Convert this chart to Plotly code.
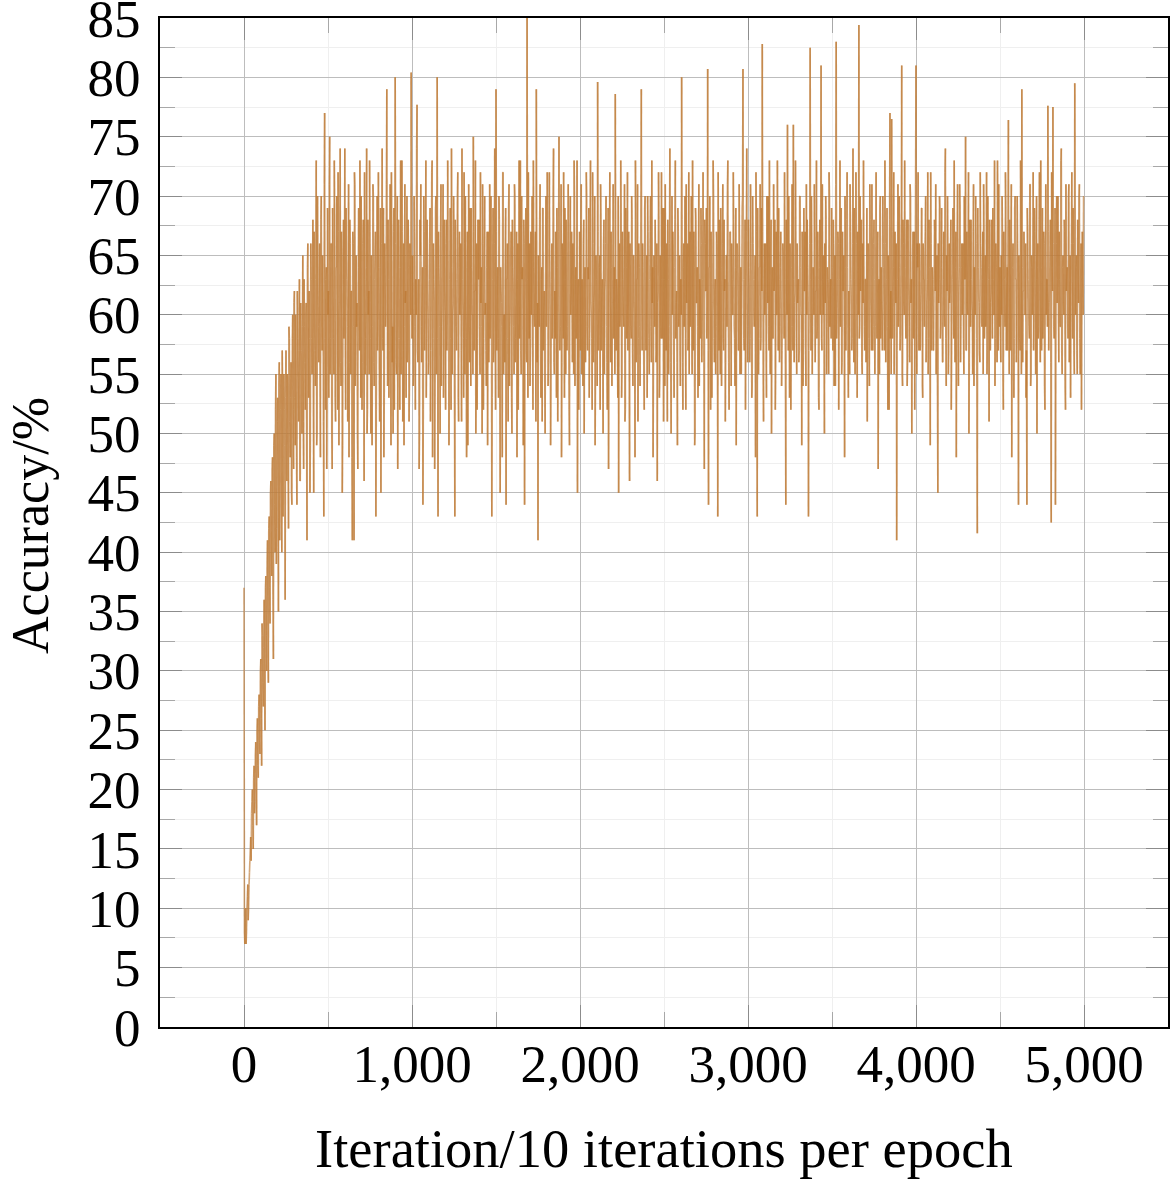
import plotly.graph_objects as go

# Accuracy (%), samples at iterations 0, 5, 10, ...
acc = [
    37, 7, 10, 8, 11, 9, 12, 14, 16, 18,
    20, 15, 22, 19, 24, 17, 26, 21, 28, 23,
    31, 22, 33, 27, 36, 25, 38, 30, 41, 29,
    43, 34, 46, 38, 48, 31, 50, 40, 55, 42,
    53, 35, 56, 45, 55, 40, 54, 47, 52, 36,
    57, 46, 54, 42, 58, 48, 56, 44, 60, 47,
    62, 49, 55, 44, 58, 51, 63, 46, 57, 50,
    65, 47, 59, 52, 61, 41, 66, 53, 58, 49,
    63, 55, 68, 45, 60, 54, 73, 50, 62, 56,
    66, 48, 70, 57, 61, 43, 77, 52, 64, 55,
    60, 53, 75, 58, 66, 47, 62, 55, 69, 51,
    64, 57, 72, 49, 61, 56, 67, 45, 63, 58,
    74, 52, 65, 59, 60, 48, 68, 55, 62, 41,
    66, 41, 71, 57, 59, 50, 64, 60, 73, 53,
    61, 56, 68, 46, 63, 58, 74, 52, 60, 55,
    67, 50, 62, 59, 70, 54, 65, 43, 61, 57,
    72, 55, 64, 45, 66, 58, 69, 53, 62, 60,
    79, 54, 63, 57, 71, 49, 65, 59, 67, 52,
    80, 56, 62, 47, 68, 58, 64, 55, 73, 51,
    66, 59, 61, 53, 70, 57, 64, 54, 63, 80.4,
    58, 62, 55, 67, 52, 60, 77.7, 56, 63, 50,
    65, 59, 61, 44, 70, 57, 64, 53, 68, 60,
    56, 66, 51, 62, 73, 58, 63, 47, 69, 55,
    80, 43, 64, 59, 67, 54, 61, 71, 57, 62,
    52, 68, 60, 65, 49, 63, 58, 74, 55, 61,
    67, 43, 62, 57, 70, 53, 64, 60, 66, 51,
    63, 58, 72, 55, 61, 48, 67, 62, 59, 69,
    54, 64, 60, 75, 57, 62, 50, 66, 58, 63,
    68, 55, 61, 59, 71, 52, 65, 60, 57, 64,
    49, 67, 62, 58, 70, 43, 63, 56, 66, 61,
    79, 57, 64, 53, 68, 45, 62, 59, 72, 55,
    60, 65, 44, 63, 58, 69, 54, 61, 67, 50,
    64, 59, 71, 56, 62, 48, 66, 60, 58, 73,
    55, 63, 61, 68, 44, 65, 57, 85, 53, 62,
    66, 58, 60, 70, 52, 64, 59, 67, 79, 56,
    41, 62, 68, 57, 63, 51, 69, 60, 55, 65,
    59, 72, 54, 61, 66, 49, 63, 58, 70, 56,
    62, 67, 53, 64, 60, 75, 57, 61, 48, 66,
    58, 63, 69, 55, 62, 59, 71, 52, 65, 60,
    67, 56, 61, 73, 54, 64, 59, 45, 63, 58,
    62, 68, 55, 60, 66, 50, 64, 59, 70, 57,
    63, 53, 67, 61, 58, 72, 56, 62, 49, 65,
    60, 79.6, 57, 64, 52, 68, 61, 59, 66, 55,
    63, 70, 56, 62, 47, 65, 60, 67, 54, 61,
    58, 64, 78.6, 57, 62, 53, 45, 66, 60, 69,
    55, 63, 59, 71, 52, 64, 61, 57, 67, 46,
    62, 58, 68, 54, 65, 60, 73, 56, 63, 51,
    66, 59, 61, 79, 57, 64, 55, 69, 60, 62,
    53, 67, 58, 63, 70, 56, 61, 48, 65, 59,
    64, 57, 46, 62, 68, 55, 60, 72, 58, 63,
    69, 54, 61, 66, 51, 63, 59, 74, 56, 62,
    60, 65, 53, 68, 58, 62, 49, 67, 61, 57,
    63, 80, 56, 64, 59, 70, 52, 61, 66, 58,
    55, 67, 62, 60, 73, 57, 64, 50, 68, 61,
    59, 65, 54, 62, 69, 56, 63, 60, 47, 66,
    62, 58, 80.7, 44, 64, 57, 67, 53, 61, 70,
    56, 63, 59, 66, 43, 62, 68, 55, 64, 60,
    71, 57, 62, 51, 65, 59, 73, 56, 61, 67,
    54, 63, 60, 68, 58, 64, 49, 66, 62, 57,
    65, 60, 55, 69, 80.7, 58, 63, 52, 67, 61,
    59, 64, 56, 71, 62, 54, 66, 60, 63, 48,
    67, 43, 61, 58, 64, 57, 69, 82.8, 55, 62,
    60, 66, 53, 63, 70, 57, 61, 65, 50, 64,
    58, 62, 68, 55, 60, 73, 57, 63, 59, 67,
    54, 61, 65, 58, 63, 44, 62, 76, 57, 60,
    66, 52, 64, 59, 76, 56, 62, 68, 55, 61,
    63, 57, 70, 60, 49, 65, 58, 62, 67, 54,
    60, 64, 43, 61, 82.5, 57, 66, 59, 63, 71,
    56, 62, 58, 67, 53, 64, 60, 81, 57, 63,
    65, 50, 61, 68, 59, 63, 55, 70, 62, 58,
    64, 57, 66, 60, 54, 83, 61, 67, 52, 63,
    59, 69, 56, 62, 65, 48, 64, 60, 72, 57,
    62, 55, 67, 61, 58, 74, 56, 63, 60, 66,
    53, 64, 84.4, 59, 62, 68, 55, 61, 65, 57,
    63, 60, 51, 66, 58, 71, 62, 57, 64, 59,
    68, 55, 62, 60, 65, 47, 63, 69, 58, 61,
    57, 66, 60, 73, 56, 63, 59, 65, 52, 77,
    62, 76.5, 58, 64, 55, 67, 61, 41, 63, 59,
    70, 57, 62, 81, 54, 66, 60, 64, 58, 68,
    56, 63, 59, 71, 61, 50, 65, 58, 67, 62,
    81, 55, 64, 60, 66, 57, 62, 69, 53, 63,
    59, 67, 56, 61, 72, 58, 64, 49, 66, 60,
    63, 57, 68, 62, 55, 65, 45, 61, 70, 58,
    64, 60, 56, 67, 59, 74, 54, 62, 66, 57,
    61, 65, 52, 63, 69, 58, 60, 64, 48, 67,
    59, 62, 71, 56, 64, 60, 66, 55, 63, 75,
    57, 61, 65, 50, 68, 59, 63, 60, 67, 54,
    62, 70, 58, 41.6, 64, 61, 56, 66, 60, 63,
    55, 67, 62, 59, 72, 57, 64, 51, 65, 61,
    68, 58, 63, 60, 54, 66, 62, 73, 57, 61,
    64, 56, 60, 67, 52, 63, 59, 69, 61, 57,
    76.4, 55, 62, 65, 48, 64, 60, 58, 70, 63,
    59, 66, 44, 61, 57, 68, 79, 56, 62, 65,
    60, 53, 44, 67, 61, 58, 71, 55, 64, 62,
    57, 69, 60, 63, 50, 66, 59, 72, 56, 64,
    61, 58, 67, 54, 65, 60, 63, 77.6, 57, 62,
    68, 42.5, 64, 77.5, 59, 62, 44, 66, 61, 70,
    56, 63, 59, 74, 55, 65, 60, 67, 52, 62,
    64, 58, 71, 60, 53, 66, 61, 69, 57, 79.5,
    60, 65, 55, 63, 70, 58, 62, 52, 67, 60,
]

# Accuracy (%) at the in-between samples (iterations 2.5, 7.5, 12.5, ...)
acc_mid = [
    8, 9, 7, 10, 12, 10, 13, 15, 14, 19,
    17, 21, 18, 23, 20, 25, 22, 27, 24, 30,
    26, 34, 29, 32, 30, 37, 33, 39, 35, 42,
    37, 45, 40, 47, 36, 49, 44, 52, 39, 51,
    45, 54, 41, 52, 47, 57, 43, 55, 49, 53,
    50, 55, 47, 59, 51, 53, 45, 58, 52, 61,
    53, 60, 48, 62, 54, 57, 46, 61, 55, 59,
    51, 63, 56, 60, 50, 64, 57, 62, 45, 66,
    58, 61, 52, 67, 57, 63, 49, 70, 59, 62,
    54, 68, 60, 65, 51, 71, 58, 63, 47, 69,
    62, 71, 55, 66, 50, 69, 58, 73, 53, 64,
    70, 52, 67, 60, 74, 54, 65, 49, 68, 61,
    57, 69, 63, 51, 71, 56, 66, 62, 48, 67,
    59, 72, 54, 65, 61, 47, 69, 57, 63, 70,
    52, 66, 60, 72, 55, 64, 50, 68, 62, 73,
    58, 65, 49, 71, 56, 63, 67, 52, 70, 60,
    64, 51, 69, 61, 74, 57, 48, 66, 59, 71,
    62, 68, 53, 65, 60, 72, 56, 50, 69, 63,
    66, 55, 70, 58, 64, 52, 73, 61, 67, 57,
    49, 71, 62, 65, 56, 68, 51, 66, 60, 72,
    65, 54, 70, 59, 63, 74, 57, 61, 47, 68,
    71, 56, 64, 52, 67, 60, 73, 58, 62, 55,
    63, 69, 57, 72, 48, 66, 61, 54, 70, 64,
    58, 67, 62, 50, 71, 59, 65, 53, 68, 60,
    66, 57, 73, 61, 55, 69, 52, 64, 60, 70,
    54, 68, 59, 63, 72, 51, 67, 62, 57, 74,
    61, 53, 66, 70, 58, 64, 49, 71, 56, 65,
    69, 60, 55, 67, 62, 73, 57, 52, 68, 63,
    59, 72, 64, 50, 66, 58, 70, 61, 54, 67,
    63, 56, 71, 60, 65, 53, 69, 57, 74, 52,
    67, 62, 58, 70, 55, 64, 61, 48, 72, 60,
    56, 69, 63, 66, 51, 71, 59, 65, 53, 68,
    62, 55, 70, 58, 67, 63, 52, 73, 60, 57,
    70, 64, 49, 66, 61, 69, 56, 63, 72, 58,
    54, 67, 62, 57, 73, 60, 65, 51, 68, 61,
    65, 59, 71, 53, 64, 69, 57, 62, 50, 70,
    63, 68, 56, 72, 60, 54, 66, 61, 74, 55,
    58, 64, 69, 51, 67, 62, 59, 71, 56, 65,
    72, 53, 63, 68, 57, 65, 60, 49, 70, 62,
    60, 66, 55, 70, 63, 58, 73, 61, 52, 67,
    57, 71, 63, 54, 68, 62, 56, 72, 59, 64,
    69, 58, 73, 60, 52, 66, 61, 70, 55, 63,
    54, 67, 60, 65, 71, 57, 63, 50, 68, 62,
    66, 59, 52, 69, 61, 72, 56, 64, 60, 71,
    62, 55, 68, 63, 57, 70, 61, 59, 73, 53,
    67, 60, 64, 51, 69, 58, 72, 62, 56, 66,
    59, 70, 57, 65, 61, 48, 68, 63, 71, 58,
    64, 54, 69, 62, 66, 60, 52, 70, 57, 65,
    70, 62, 55, 67, 59, 73, 64, 56, 61, 68,
    56, 66, 61, 72, 53, 65, 58, 63, 69, 51,
    63, 71, 57, 60, 68, 55, 66, 62, 50, 70,
    67, 58, 64, 73, 61, 56, 69, 59, 65, 54,
    60, 68, 52, 66, 63, 58, 71, 64, 57, 72,
    65, 59, 70, 55, 62, 67, 49, 69, 61, 64,
    53, 71, 63, 58, 66, 60, 72, 56, 68, 62,
    69, 61, 57, 64, 70, 52, 65, 60, 73, 58,
    62, 55, 67, 61, 72, 57, 63, 69, 54, 66,
    58, 68, 63, 56, 65, 71, 60, 52, 67, 62,
    66, 60, 72, 59, 54, 69, 62, 65, 57, 71,
    55, 64, 61, 70, 63, 57, 68, 60, 74, 56,
    68, 62, 58, 66, 53, 70, 63, 59, 65, 72,
    60, 69, 55, 64, 71, 58, 62, 67, 51, 66,
    64, 57, 70, 61, 59, 73, 55, 68, 62, 58,
    71, 63, 52, 67, 60, 65, 69, 56, 64, 61,
    57, 66, 62, 72, 55, 68, 60, 63, 70, 53,
    65, 59, 71, 57, 63, 61, 73, 58, 66, 62,
    56, 70, 64, 60, 67, 54, 69, 62, 57, 71,
    68, 61, 57, 66, 63, 70, 55, 64, 60, 67,
    62, 73, 59, 63, 52, 68, 65, 58, 71, 60,
    57, 66, 70, 55, 64, 61, 72, 59, 63, 69,
    61, 68, 54, 65, 71, 58, 63, 66, 60, 73,
    66, 55, 67, 62, 59, 70, 57, 68, 64, 53,
    59, 71, 63, 57, 66, 61, 69, 55, 72, 62,
    67, 60, 58, 70, 64, 56, 66, 73, 59, 63,
    56, 69, 62, 65, 54, 68, 60, 71, 57, 66,
    63, 59, 72, 58, 67, 62, 55, 70, 64, 60,
    70, 64, 57, 66, 61, 69, 52, 63, 68, 58,
    55, 67, 61, 72, 59, 63, 66, 57, 71, 62,
    64, 58, 69, 55, 68, 61, 73, 60, 65, 54,
    68, 62, 56, 70, 63, 58, 67, 61, 52, 71,
    59, 66, 72, 57, 64, 60, 69, 54, 66, 63,
    65, 70, 58, 63, 55, 68, 61, 72, 57, 64,
    57, 62, 67, 71, 60, 54, 66, 63, 69, 59,
    69, 56, 63, 60, 72, 58, 65, 70, 55, 66,
    62, 68, 57, 65, 61, 73, 56, 67, 60, 71,
    54, 64, 69, 59, 66, 62, 58, 70, 63, 57,
    67, 60, 72, 56, 63, 68, 61, 55, 71, 64,
    60, 66, 54, 69, 62, 57, 72, 64, 59, 67,
    71, 58, 65, 61, 55, 70, 63, 68, 57, 62,
    63, 69, 60, 73, 58, 64, 56, 66, 71, 59,
    58, 65, 70, 55, 67, 61, 72, 57, 64, 68,
    62, 68, 57, 71, 60, 66, 53, 69, 63, 56,
    70, 61, 65, 58, 73, 55, 64, 62, 67, 60,
    66, 57, 69, 63, 59, 71, 54, 65, 60, 72,
    61, 67, 55, 70, 64, 58, 68, 62, 73, 57,
    69, 60, 66, 52, 71, 63, 59, 67, 61, 65,
    56, 72, 62, 66, 58, 69, 55, 70, 63, 60,
    67, 59, 73, 57, 64, 61, 68, 54, 71, 63,
    60, 70, 56, 65, 62, 72, 58, 66, 55, 69,
    64, 57, 68, 61, 71, 55, 66, 60, 63, 70,
]

step = 2.5  # iterations between successive samples once interleaved
values = [v for pair in zip(acc, acc_mid) for v in pair]
iters = [i * step for i in range(len(values))]

x_tickvals = [0, 1000, 2000, 3000, 4000, 5000]
y_tickvals = list(range(0, 90, 5))

LINE = "rgba(190,124,56,0.68)"
FONT = "Liberation Serif"

fig = go.Figure()
# one trace per segment so overlapping strokes build up like the original
for i in range(len(values) - 1):
    fig.add_trace(go.Scatter(
        x=iters[i:i + 2], y=values[i:i + 2], mode="lines",
        line=dict(color=LINE, width=1.6), showlegend=False, hoverinfo="skip"))

axis_common = dict(
    showline=True, linecolor="black", linewidth=1.7, mirror="ticks",
    ticks="inside", ticklen=22, tickwidth=1.3, tickcolor="#8c8c8c",
    showgrid=True, gridcolor="#bdbdbd", gridwidth=1.3, zeroline=False,
    tickfont=dict(family=FONT, size=53, color="black"),
    ticklabeloverflow="allow", automargin=False,
)

fig.update_xaxes(
    range=[-500, 5500], tickvals=x_tickvals, tickformat=",d",
    minor=dict(dtick=500, tick0=0, ticks="inside", ticklen=15, tickwidth=1.2,
               tickcolor="#a8a8a8", showgrid=True, gridcolor="#efefef", gridwidth=1.3),
    ticklabelstandoff=-10, **axis_common)
fig.update_yaxes(
    range=[0, 85], tickvals=y_tickvals,
    minor=dict(dtick=2.5, tick0=0, ticks="inside", ticklen=15, tickwidth=1.2,
               tickcolor="#a8a8a8", showgrid=True, gridcolor="#efefef", gridwidth=1.3),
    ticklabelstandoff=7, **axis_common)

fig.add_annotation(text="Iteration/10 iterations per epoch", xref="paper", yref="paper",
                   x=0.5, y=-0.12, xanchor="center", yanchor="middle", showarrow=False,
                   font=dict(family=FONT, size=54.5, color="black"))
fig.add_annotation(text="Accuracy/%", xref="paper", yref="paper", textangle=-90,
                   x=-0.129, y=0.4975, xanchor="center", yanchor="middle", showarrow=False,
                   font=dict(family=FONT, size=52, color="black"))

fig.update_layout(
    width=1170, height=1179,
    margin=dict(l=160, r=2, t=18, b=152, autoexpand=False),
    plot_bgcolor="white", paper_bgcolor="white", showlegend=False,
)

fig.write_html("out.html")
